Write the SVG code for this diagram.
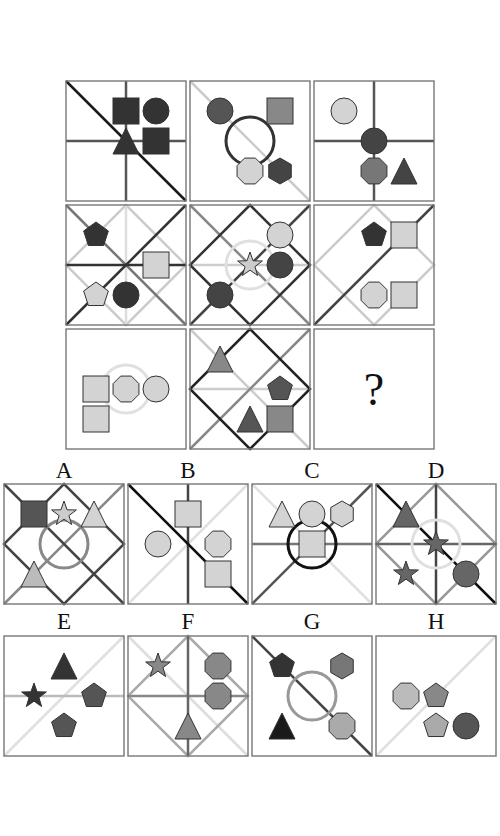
<svg xmlns="http://www.w3.org/2000/svg" xmlns:xlink="http://www.w3.org/1999/xlink" width="500" height="836" viewBox="0 0 500 836">
<style>
.bg{fill:#fff;stroke:none}
.bd{fill:none;stroke:#777;stroke-width:1.4}
.ln{fill:none;stroke-width:2.5}
.rg{fill:none;stroke-width:3}
.sh{stroke:#333;stroke-width:1}
.lbl{font-family:"Liberation Serif","DejaVu Serif",serif;font-size:23px;text-anchor:middle;fill:#111}
.q{font-family:"Liberation Serif","DejaVu Serif",serif;font-size:46px;text-anchor:middle;fill:#111}
</style>
<defs>
<path id="v" d="M60 0V120"/>
<path id="h" d="M0 60H120"/>
<path id="d1" d="M0 0L120 120"/>
<path id="d2" d="M0 120L120 0"/>
<path id="dm" d="M60 0L120 60L60 120L0 60Z"/>
<circle id="rg" cx="60" cy="60" r="24"/>
<rect id="sq" x="-13" y="-13" width="26" height="26"/>
<circle id="ci" cx="0" cy="0" r="13"/>
<polygon id="tr" points="0,-13 13,13 -13,13"/>
<polygon id="oc" points="12.93,5.36 5.36,12.93 -5.36,12.93 -12.93,5.36 -12.93,-5.36 -5.36,-12.93 5.36,-12.93 12.93,-5.36"/>
<polygon id="hx" points="0,-13 11.26,-6.5 11.26,6.5 0,13 -11.26,6.5 -11.26,-6.5"/>
<polygon id="pe" points="0,-13 12.36,-4.02 7.64,10.52 -7.64,10.52 -12.36,-4.02"/>
<polygon id="st" points="0,-13 3.06,-4.21 12.36,-4.02 4.95,1.61 7.64,10.52 0,5.2 -7.64,10.52 -4.95,1.61 -12.36,-4.02 -3.06,-4.21"/>
<rect id="fr" x="0" y="0" width="120" height="120"/>
</defs>

<g id="p1" transform="translate(66,81)">
<use href="#fr" class="bg"/>
<use href="#v" class="ln" stroke="#555"/>
<use href="#h" class="ln" stroke="#555"/>
<use href="#d1" class="ln" stroke="#1a1a1a"/>
<use href="#sq" class="sh" x="60" y="30" fill="#333"/>
<use href="#ci" class="sh" x="90" y="30" fill="#333"/>
<use href="#tr" class="sh" x="60" y="60" fill="#333"/>
<use href="#sq" class="sh" x="90" y="60" fill="#333"/>
<use href="#fr" class="bd"/>
</g>

<g id="p2" transform="translate(190,81)">
<use href="#fr" class="bg"/>
<use href="#d1" class="ln" stroke="#ccc"/>
<use href="#rg" class="rg" stroke="#333"/>
<use href="#ci" class="sh" x="30" y="30" fill="#555"/>
<use href="#sq" class="sh" x="90" y="30" fill="#888"/>
<use href="#oc" class="sh" x="60" y="90" fill="#d3d3d3"/>
<use href="#hx" class="sh" x="90" y="90" fill="#444"/>
<use href="#fr" class="bd"/>
</g>

<g id="p3" transform="translate(314,81)">
<use href="#fr" class="bg"/>
<use href="#v" class="ln" stroke="#555"/>
<use href="#h" class="ln" stroke="#555"/>
<use href="#ci" class="sh" x="30" y="30" fill="#d3d3d3"/>
<use href="#ci" class="sh" x="60" y="60" fill="#444"/>
<use href="#oc" class="sh" x="60" y="90" fill="#777"/>
<use href="#tr" class="sh" x="90" y="90" fill="#444"/>
<use href="#fr" class="bd"/>
</g>

<g id="p4" transform="translate(66,205)">
<use href="#fr" class="bg"/>
<use href="#dm" class="ln" stroke="#ccc"/>
<use href="#v" class="ln" stroke="#ddd"/>
<use href="#d1" class="ln" stroke="#777"/>
<use href="#d2" class="ln" stroke="#333"/>
<use href="#h" class="ln" stroke="#333"/>
<use href="#pe" class="sh" x="30" y="30" fill="#333"/>
<use href="#sq" class="sh" x="90" y="60" fill="#d3d3d3"/>
<use href="#pe" class="sh" x="30" y="90" fill="#d3d3d3"/>
<use href="#ci" class="sh" x="60" y="90" fill="#333"/>
<use href="#fr" class="bd"/>
</g>

<g id="p5" transform="translate(190,205)">
<use href="#fr" class="bg"/>
<use href="#h" class="ln" stroke="#ccc"/>
<use href="#d1" class="ln" stroke="#888"/>
<use href="#d2" class="ln" stroke="#444"/>
<use href="#dm" class="ln" stroke="#333"/>
<use href="#rg" class="rg" stroke="#e0e0e0"/>
<use href="#ci" class="sh" x="90" y="30" fill="#d3d3d3"/>
<use href="#st" class="sh" x="60" y="60" fill="#ccc"/>
<use href="#ci" class="sh" x="90" y="60" fill="#444"/>
<use href="#ci" class="sh" x="30" y="90" fill="#444"/>
<use href="#fr" class="bd"/>
</g>

<g id="p6" transform="translate(314,205)">
<use href="#fr" class="bg"/>
<use href="#dm" class="ln" stroke="#ccc"/>
<use href="#d2" class="ln" stroke="#444"/>
<use href="#pe" class="sh" x="60" y="30" fill="#333"/>
<use href="#sq" class="sh" x="90" y="30" fill="#d3d3d3"/>
<use href="#oc" class="sh" x="60" y="90" fill="#d3d3d3"/>
<use href="#sq" class="sh" x="90" y="90" fill="#d3d3d3"/>
<use href="#fr" class="bd"/>
</g>

<g id="p7" transform="translate(66,329)">
<use href="#fr" class="bg"/>
<use href="#rg" class="rg" stroke="#e0e0e0"/>
<use href="#sq" class="sh" x="30" y="60" fill="#d3d3d3"/>
<use href="#oc" class="sh" x="60" y="60" fill="#d3d3d3"/>
<use href="#ci" class="sh" x="90" y="60" fill="#d3d3d3"/>
<use href="#sq" class="sh" x="30" y="90" fill="#d3d3d3"/>
<use href="#fr" class="bd"/>
</g>

<g id="p8" transform="translate(190,329)">
<use href="#fr" class="bg"/>
<use href="#d1" class="ln" stroke="#ccc"/>
<use href="#h" class="ln" stroke="#ccc"/>
<use href="#d2" class="ln" stroke="#888"/>
<use href="#dm" class="ln" stroke="#222"/>
<use href="#tr" class="sh" x="30" y="30" fill="#888"/>
<use href="#pe" class="sh" x="90" y="60" fill="#555"/>
<use href="#tr" class="sh" x="60" y="90" fill="#555"/>
<use href="#sq" class="sh" x="90" y="90" fill="#888"/>
<use href="#fr" class="bd"/>
</g>

<g id="p9" transform="translate(314,329)">
<use href="#fr" class="bg"/>
<text class="q" x="60" y="76">?</text>
<use href="#fr" class="bd"/>
</g>

<g id="optA" transform="translate(4,484)">
<text class="lbl" x="60" y="-6">A</text>
<use href="#fr" class="bg"/>
<use href="#d2" class="ln" stroke="#888"/>
<use href="#d1" class="ln" stroke="#444"/>
<use href="#dm" class="ln" stroke="#444"/>
<use href="#rg" class="rg" stroke="#888"/>
<use href="#sq" class="sh" x="30" y="30" fill="#555"/>
<use href="#st" class="sh" x="60" y="30" fill="#ccc"/>
<use href="#tr" class="sh" x="90" y="30" fill="#d3d3d3"/>
<use href="#tr" class="sh" x="30" y="90" fill="#bbb"/>
<use href="#fr" class="bd"/>
</g>

<g id="optB" transform="translate(128,484)">
<text class="lbl" x="60" y="-6">B</text>
<use href="#fr" class="bg"/>
<use href="#d2" class="ln" stroke="#e0e0e0"/>
<use href="#v" class="ln" stroke="#444"/>
<use href="#d1" class="ln" stroke="#111"/>
<use href="#sq" class="sh" x="60" y="30" fill="#d3d3d3"/>
<use href="#ci" class="sh" x="30" y="60" fill="#d3d3d3"/>
<use href="#oc" class="sh" x="90" y="60" fill="#d3d3d3"/>
<use href="#sq" class="sh" x="90" y="90" fill="#d3d3d3"/>
<use href="#fr" class="bd"/>
</g>

<g id="optC" transform="translate(252,484)">
<text class="lbl" x="60" y="-6">C</text>
<use href="#fr" class="bg"/>
<use href="#d1" class="ln" stroke="#e0e0e0"/>
<use href="#d2" class="ln" stroke="#555"/>
<use href="#h" class="ln" stroke="#777"/>
<use href="#rg" class="rg" stroke="#111"/>
<use href="#tr" class="sh" x="30" y="30" fill="#d3d3d3"/>
<use href="#ci" class="sh" x="60" y="30" fill="#d3d3d3"/>
<use href="#hx" class="sh" x="90" y="30" fill="#d3d3d3"/>
<use href="#sq" class="sh" x="60" y="60" fill="#d3d3d3"/>
<use href="#fr" class="bd"/>
</g>

<g id="optD" transform="translate(376,484)">
<text class="lbl" x="60" y="-6">D</text>
<use href="#fr" class="bg"/>
<use href="#dm" class="ln" stroke="#999"/>
<use href="#h" class="ln" stroke="#666"/>
<use href="#v" class="ln" stroke="#444"/>
<use href="#d1" class="ln" stroke="#111"/>
<use href="#rg" class="rg" stroke="#e0e0e0"/>
<use href="#tr" class="sh" x="30" y="30" fill="#666"/>
<use href="#st" class="sh" x="60" y="60" fill="#666"/>
<use href="#st" class="sh" x="30" y="90" fill="#666"/>
<use href="#ci" class="sh" x="90" y="90" fill="#666"/>
<use href="#fr" class="bd"/>
</g>

<g id="optE" transform="translate(4,636)">
<text class="lbl" x="60" y="-7">E</text>
<use href="#fr" class="bg"/>
<use href="#d2" class="ln" stroke="#e0e0e0"/>
<use href="#h" class="ln" stroke="#bbb"/>
<use href="#tr" class="sh" x="60" y="30" fill="#333"/>
<use href="#st" class="sh" x="30" y="60" fill="#333"/>
<use href="#pe" class="sh" x="90" y="60" fill="#555"/>
<use href="#pe" class="sh" x="60" y="90" fill="#555"/>
<use href="#fr" class="bd"/>
</g>

<g id="optF" transform="translate(128,636)">
<text class="lbl" x="60" y="-7">F</text>
<use href="#fr" class="bg"/>
<use href="#d1" class="ln" stroke="#ddd"/>
<use href="#dm" class="ln" stroke="#aaa"/>
<use href="#h" class="ln" stroke="#888"/>
<use href="#v" class="ln" stroke="#666"/>
<use href="#st" class="sh" x="30" y="30" fill="#888"/>
<use href="#oc" class="sh" x="90" y="30" fill="#888"/>
<use href="#oc" class="sh" x="90" y="60" fill="#888"/>
<use href="#tr" class="sh" x="60" y="90" fill="#888"/>
<use href="#fr" class="bd"/>
</g>

<g id="optG" transform="translate(252,636)">
<text class="lbl" x="60" y="-7">G</text>
<use href="#fr" class="bg"/>
<use href="#d1" class="ln" stroke="#444"/>
<use href="#rg" class="rg" stroke="#999"/>
<use href="#pe" class="sh" x="30" y="30" fill="#333"/>
<use href="#hx" class="sh" x="90" y="30" fill="#777"/>
<use href="#tr" class="sh" x="30" y="90" fill="#1a1a1a"/>
<use href="#oc" class="sh" x="90" y="90" fill="#aaa"/>
<use href="#fr" class="bd"/>
</g>

<g id="optH" transform="translate(376,636)">
<text class="lbl" x="60" y="-7">H</text>
<use href="#fr" class="bg"/>
<use href="#d2" class="ln" stroke="#e0e0e0"/>
<use href="#oc" class="sh" x="30" y="60" fill="#bbb"/>
<use href="#pe" class="sh" x="60" y="60" fill="#888"/>
<use href="#pe" class="sh" x="60" y="90" fill="#aaa"/>
<use href="#ci" class="sh" x="90" y="90" fill="#555"/>
<use href="#fr" class="bd"/>
</g>
</svg>
